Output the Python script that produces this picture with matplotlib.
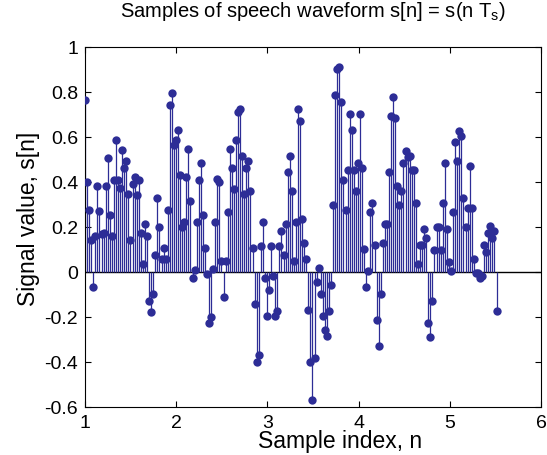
import numpy as np
import matplotlib
matplotlib.use("Agg")
import matplotlib.pyplot as plt
from matplotlib.ticker import FuncFormatter

# Sample values (index k = 0..199)
signal_values = [
    0.766, 0.40, 0.275, 0.14, -0.065, 0.16, 0.38, 0.27, 0.17, 0.173,
    0.38, 0.507, 0.255, 0.16, 0.41, 0.588, 0.41, 0.373, 0.54, 0.462,
    0.495, 0.347, 0.14, 0.39, 0.42, 0.34, 0.41, 0.173, 0.036, 0.213,
    0.16, -0.13, -0.18, -0.10, 0.077, 0.33, 0.20, 0.058, 0.107, 0.058,
    0.275, 0.744, 0.797, 0.566, 0.588, 0.63, 0.43, 0.20, 0.224, 0.42,
    0.547, 0.317, -0.027, 0.009, 0.22, 0.41, 0.483, 0.255, 0.107, -0.009,
    -0.227, -0.20, 0.013, 0.224, 0.413, 0.40, 0.047, -0.11, 0.047, 0.265,
    0.547, 0.462, 0.37, 0.588, 0.712, 0.724, 0.517, 0.347, 0.462, 0.495,
    0.358, 0.107, -0.142, -0.40, -0.37, 0.117, 0.224, -0.027, -0.194, -0.078,
    0.117, -0.016, -0.194, -0.172, 0.117, 0.18, 0.077, 0.213, 0.443, 0.517,
    0.358, 0.047, 0.224, 0.724, 0.67, 0.236, 0.13, 0.058, -0.17, -0.40,
    -0.57, -0.382, -0.046, 0.016, -0.10, -0.194, -0.256, -0.286, -0.172, -0.058,
    0.298, 0.787, 0.902, 0.912, 0.754, 0.41, 0.275, 0.453, 0.704, 0.63,
    0.453, 0.358, 0.484, 0.704, 0.462, 0.10, -0.068, 0.006, 0.265, 0.307,
    0.12, -0.213, -0.327, -0.10, 0.13, 0.213, 0.213, 0.443, 0.692, 0.776,
    0.683, 0.38, 0.298, 0.358, 0.484, 0.536, 0.51, 0.517, 0.453, 0.453,
    0.307, 0.036, 0.12, 0.12, 0.19, 0.15, -0.225, -0.287, -0.13, 0.098,
    0.20, 0.20, 0.098, 0.307, 0.484, 0.19, 0.046, 0.004, 0.265, 0.576,
    0.495, 0.628, 0.606, 0.327, 0.20, 0.286, 0.473, 0.286, 0.058, -0.004,
    -0.004, -0.027, -0.016, 0.12, 0.087, 0.172, 0.203, 0.151, 0.184, -0.172,
]
sample_rate = 44.1          # samples per axis unit
x_start = 1.0
x_ticks = [1, 2, 3, 4, 5, 6]
y_ticks = [-0.6, -0.4, -0.2, 0, 0.2, 0.4, 0.6, 0.8, 1]

title_text = "Samples of speech waveform s[n] = s(n T$_{\\mathrm{s}}$)"
x_label = "Sample index, n"
y_label = "Signal value, s[n]"

plt.rcParams['font.family'] = ['Liberation Sans', 'DejaVu Sans']
plt.rcParams['mathtext.fontset'] = 'custom'
plt.rcParams['mathtext.rm'] = 'Liberation Sans'
plt.rcParams['mathtext.it'] = 'Liberation Sans:italic'
plt.rcParams['axes.unicode_minus'] = False

color = '#2d2d96'

fig = plt.figure(figsize=(5.47, 4.56), dpi=100)
ax = fig.add_axes([0.1554, 0.1053, 0.8336, 0.7895])

n = np.arange(len(signal_values))
x = x_start + n / sample_rate
y = np.array(signal_values)

ax.axhline(0, color='black', lw=1.0, zorder=1)
markerline, stemlines, baseline = ax.stem(x, y, basefmt=' ')
plt.setp(stemlines, color=color, linewidth=0.9)
plt.setp(markerline, color=color, markersize=6.0, markeredgewidth=0, zorder=3)

ax.set_xlim(1, 6)
ax.set_ylim(-0.6, 1)
ax.set_xticks(x_ticks)
ax.set_yticks(y_ticks)
fmt = FuncFormatter(lambda v, p: f"{v:g}")
ax.xaxis.set_major_formatter(fmt)
ax.yaxis.set_major_formatter(fmt)
ax.tick_params(direction='in', top=True, right=True, length=4, width=0.8,
               labelsize=14, pad=5)
for s in ax.spines.values():
    s.set_linewidth(0.8)

ax.set_title(title_text, fontsize=14.5, pad=22)
ax.set_xlabel(x_label, fontsize=16.5)
ax.xaxis.set_label_coords(0.56, -0.062)
ax.set_ylabel(y_label, fontsize=16.5)
ax.yaxis.set_label_coords(-0.099, 0.525)

fig.savefig("out.png", dpi=100)
